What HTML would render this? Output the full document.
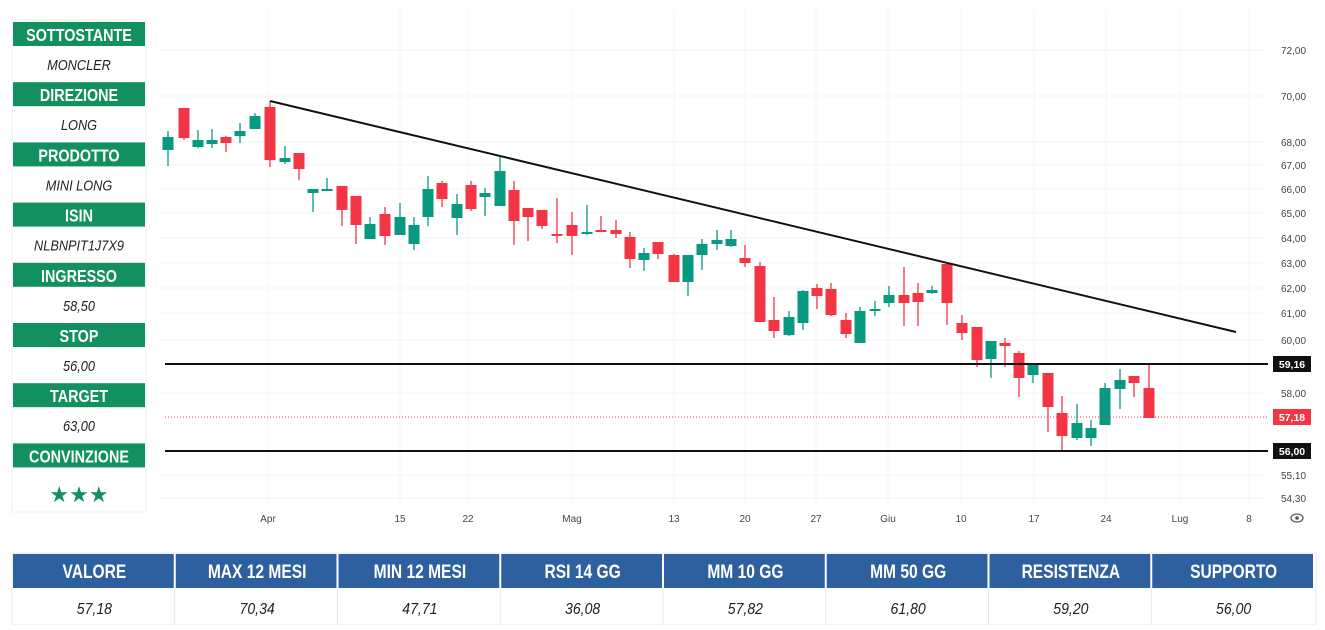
<!DOCTYPE html>
<html><head><meta charset="utf-8"><style>
body{margin:0;width:1325px;height:625px;background:#fff;overflow:hidden;font-family:"Liberation Sans",sans-serif}
</style></head><body>
<svg width="1325" height="625" xmlns="http://www.w3.org/2000/svg" font-family="Liberation Sans, sans-serif">
<rect width="1325" height="625" fill="#fff"/>
<g stroke="#f4f5f7" stroke-width="1">
<line x1="268" y1="10" x2="268" y2="505"/><line x1="400" y1="10" x2="400" y2="505"/><line x1="468" y1="10" x2="468" y2="505"/><line x1="572" y1="10" x2="572" y2="505"/><line x1="674" y1="10" x2="674" y2="505"/><line x1="745" y1="10" x2="745" y2="505"/><line x1="816" y1="10" x2="816" y2="505"/><line x1="888" y1="10" x2="888" y2="505"/><line x1="961" y1="10" x2="961" y2="505"/><line x1="1034" y1="10" x2="1034" y2="505"/><line x1="1106" y1="10" x2="1106" y2="505"/><line x1="1180" y1="10" x2="1180" y2="505"/><line x1="1249" y1="10" x2="1249" y2="505"/>
<line x1="160" y1="50" x2="1265" y2="50"/><line x1="160" y1="96" x2="1265" y2="96"/><line x1="160" y1="142" x2="1265" y2="142"/><line x1="160" y1="165" x2="1265" y2="165"/><line x1="160" y1="189" x2="1265" y2="189"/><line x1="160" y1="213" x2="1265" y2="213"/><line x1="160" y1="238" x2="1265" y2="238"/><line x1="160" y1="263" x2="1265" y2="263"/><line x1="160" y1="288" x2="1265" y2="288"/><line x1="160" y1="313" x2="1265" y2="313"/><line x1="160" y1="340" x2="1265" y2="340"/><line x1="160" y1="393" x2="1265" y2="393"/><line x1="160" y1="475" x2="1265" y2="475"/><line x1="160" y1="498" x2="1265" y2="498"/>
</g>
<g id="c"></g>
<line x1="270" y1="101" x2="1236" y2="332" stroke="#111" stroke-width="2"/>
<line x1="165" y1="364" x2="1268" y2="364" stroke="#111" stroke-width="2"/>
<line x1="165" y1="451" x2="1268" y2="451" stroke="#111" stroke-width="2"/>
<line x1="165" y1="417" x2="1268" y2="417" stroke="#f23645" stroke-width="1" stroke-dasharray="1,2"/>
<g font-size="10" fill="#444">
<text x="1281" y="54">72,00</text><text x="1281" y="100">70,00</text><text x="1281" y="146">68,00</text><text x="1281" y="169">67,00</text><text x="1281" y="193">66,00</text><text x="1281" y="217">65,00</text><text x="1281" y="242">64,00</text><text x="1281" y="267">63,00</text><text x="1281" y="292">62,00</text><text x="1281" y="317">61,00</text><text x="1281" y="344">60,00</text><text x="1281" y="397">58,00</text><text x="1281" y="479">55,10</text><text x="1281" y="502">54,30</text>
</g>
<rect x="1273" y="356" width="38" height="16" fill="#111"/><text x="1292" y="368" font-size="10.5" font-weight="bold" fill="#fff" text-anchor="middle">59,16</text>
<rect x="1273" y="409" width="38" height="16" fill="#f23645"/><text x="1292" y="421" font-size="10.5" font-weight="bold" fill="#fff" text-anchor="middle">57,18</text>
<rect x="1273" y="443" width="38" height="16" fill="#111"/><text x="1292" y="455" font-size="10.5" font-weight="bold" fill="#fff" text-anchor="middle">56,00</text>
<g font-size="10" fill="#444" text-anchor="middle">
<text x="268" y="522">Apr</text><text x="400" y="522">15</text><text x="468" y="522">22</text><text x="572" y="522">Mag</text><text x="674" y="522">13</text><text x="745" y="522">20</text><text x="816" y="522">27</text><text x="888" y="522">Giu</text><text x="961" y="522">10</text><text x="1034" y="522">17</text><text x="1106" y="522">24</text><text x="1180" y="522">Lug</text><text x="1249" y="522">8</text>
</g>
<ellipse cx="1297" cy="518" rx="6" ry="4" fill="none" stroke="#555" stroke-width="1.2"/><circle cx="1297" cy="518" r="1.8" fill="#555"/>
<g id="lp"></g>
<g id="tb"></g>
</svg>
<script>
var d=[[168,'g',137,150,131,166],[184,'r',108,138,108,140],[198,'g',140,147,130,148],[212,'g',140,144,129,148],[226,'r',137,143,136,152],[240,'g',131,136,123,143],[255,'g',116,129,113,129],[270,'r',107,160,101,167],[285,'g',158,162,146,164],[299,'r',153,169,153,180],[313,'g',189,193,189,212],[327,'g',189,190,178,190],[342,'r',186,210,186,226],[356,'r',196,225,196,244],[370,'g',224,239,217,239],[385,'r',214,236,207,245],[400,'g',217,235,203,235],[414,'g',225,244,217,250],[428,'g',189,217,176,226],[442,'r',183,199,181,207],[457,'g',204,218,194,235],[471,'r',185,209,181,211],[485,'g',193,197,188,216],[500,'g',171,206,157,206],[514,'r',190,221,181,245],[528,'r',208,217,208,241],[542,'r',210,226,210,229],[557,'r',234,236,198,243],[572,'r',225,236,212,255],[587,'g',232,233,205,235],[601,'r',230,232,216,232],[616,'r',230,234,220,238],[630,'r',237,259,232,268],[644,'g',253,260,248,271],[658,'r',242,254,242,259],[674,'r',255,282,254,282],[688,'g',255,282,255,296],[702,'g',244,255,239,270],[717,'g',240,244,230,250],[731,'g',239,246,230,247],[745,'r',258,263,245,267],[760,'r',266,322,262,322],[774,'r',320,331,297,338],[789,'g',317,335,311,336],[803,'g',291,323,290,330],[817,'r',288,296,284,309],[831,'r',289,315,283,316],[846,'r',320,334,313,338],[860,'g',311,343,307,343],[875,'g',309,310,301,316],[889,'g',295,303,286,307],[904,'r',295,303,267,326],[918,'r',293,302,283,326],[932,'g',290,293,286,294],[947,'r',264,303,263,325],[962,'r',323,333,315,340],[977,'r',327,360,327,367],[991,'g',341,359,341,378],[1005,'r',343,346,338,367],[1019,'r',353,378,351,397],[1033,'g',365,375,365,383],[1048,'r',373,407,373,432],[1062,'r',413,436,396,450],[1077,'g',423,438,404,440],[1091,'g',428,438,420,446],[1105,'g',388,425,383,425],[1120,'g',380,389,369,409],[1134,'r',376,383,376,397],[1149,'r',388,418,364,418]];
var s='';
d.forEach(function(c){var col=c[1]=='g'?'#089981':'#f23645';s+='<line x1="'+c[0]+'" x2="'+c[0]+'" y1="'+c[4]+'" y2="'+c[5]+'" stroke="'+col+'" stroke-width="1.3"/><rect x="'+(c[0]-5.5)+'" y="'+c[2]+'" width="11" height="'+Math.max(2,c[3]-c[2])+'" fill="'+col+'"/>';});
document.getElementById('c').innerHTML=s;
function T2(x,y,sz,sx,attrs,txt){return '<text transform="translate('+x+','+y+') scale('+sx+',1)" x="0" y="0" font-size="'+sz+'" text-anchor="middle" '+attrs+'>'+txt+'</text>';}
var L=[['SOTTOSTANTE','MONCLER'],['DIREZIONE','LONG'],['PRODOTTO','MINI LONG'],['ISIN','NLBNPIT1J7X9'],['INGRESSO','58,50'],['STOP','56,00'],['TARGET','63,00'],['CONVINZIONE','']];
s='<rect x="12" y="20" width="134" height="492" fill="#fff" stroke="#eef0f2"/>';
L.forEach(function(r,i){var y=22+i*60.2;s+='<rect x="13" y="'+y+'" width="132" height="24" fill="#12905f"/>'+T2(79,y+19,18,0.8,'font-weight="bold" fill="#fff"',r[0]);if(r[1])s+=T2(79,y+48,15,0.85,'font-style="italic" fill="#222"',r[1]);});
s+='<text x="79" y="502" font-size="22" fill="#12905f" text-anchor="middle">★★★</text>';
document.getElementById('lp').innerHTML=s;
var T=[['VALORE','57,18'],['MAX 12 MESI','70,34'],['MIN 12 MESI','47,71'],['RSI 14 GG','36,08'],['MM 10 GG','57,82'],['MM 50 GG','61,80'],['RESISTENZA','59,20'],['SUPPORTO','56,00']];
s='<rect x="12" y="553" width="1304" height="72" fill="#fff" stroke="#e6e8ec"/>';var w=1302/8;
T.forEach(function(r,i){var x=13+i*w;s+='<rect x="'+x+'" y="554" width="'+(w-2)+'" height="34" fill="#2e5f9e"/>'+T2(x+w/2,578,19,0.82,'font-weight="bold" fill="#fff"',r[0])+T2(x+w/2,614,16,0.88,'font-style="italic" fill="#222"',r[1]);if(i>0)s+='<line x1="'+(x-1)+'" x2="'+(x-1)+'" y1="588" y2="625" stroke="#e6e8ec"/>';});
document.getElementById('tb').innerHTML=s;
</script>
</body></html>
